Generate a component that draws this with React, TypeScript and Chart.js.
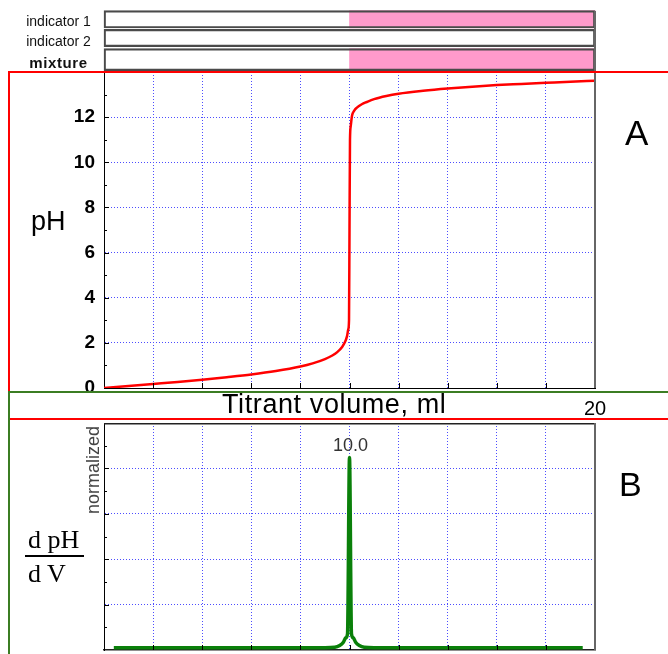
import React, { useEffect, useRef } from 'react';
import { Chart, registerables } from 'chart.js';

Chart.register(...registerables);

// ---------- data ----------
const indicatorLabels = ['indicator 1', 'indicator 2', 'mixture'];
const indicatorColourStart: (number | null)[] = [10, null, 10]; // ml where pink colour begins
const volumeMax = 20;
const phMax = 14;
const derivMax = 5;

const phVolume = [0, 1, 2, 3, 4, 5, 6, 7, 8, 8.5, 9, 9.3, 9.5, 9.7, 9.8, 9.9, 9.95, 9.98, 10, 10.02, 10.05, 10.1, 10.2, 10.3, 10.5, 10.7, 11, 11.5, 12, 13, 14, 15, 16, 17, 18, 19, 20];
const phValues = [0.0, 0.09, 0.18, 0.27, 0.37, 0.48, 0.6, 0.75, 0.95, 1.09, 1.28, 1.44, 1.59, 1.82, 2.0, 2.3, 2.6, 3.0, 7.0, 11.0, 11.6, 12.05, 12.3, 12.42, 12.57, 12.67, 12.8, 12.94, 13.04, 13.17, 13.27, 13.35, 13.42, 13.47, 13.52, 13.57, 13.61];

const derivVolume = [0.4, 9.0, 9.4, 9.6, 9.75, 9.85, 9.92, 10.0, 10.08, 10.15, 10.25, 10.4, 10.6, 11.0, 19.5];
const derivValues = [0.05, 0.05, 0.06, 0.1, 0.17, 0.27, 0.36, 4.24, 0.36, 0.27, 0.17, 0.1, 0.06, 0.05, 0.05];

// ---------- styling / layout ----------
const W = 668;
const H = 654;
const PINK = '#ff9acb';
const GRID = '#4d4dff';
const RED = '#ff0000';
const GREEN = '#3b7d23';
const CURVE_GREEN = '#0a800a';
const FONT = 'Arial, "Liberation Sans", sans-serif';
const SERIF = '"Liberation Serif", "Times New Roman", serif';
const rowCenter = [19.35, 38, 59.7];
const rowThickness = [17.3, 17.4, 22];
const rowLabelTop = [13.9, 33.9, 54.9];
const IND_BOTTOM = 72;

function innerTicks(id: string, xStep: number, yStep: number, yMinor: number, topLine: boolean) {
  return {
    id,
    afterDraw(chart: any) {
      const { ctx, chartArea } = chart;
      const { left, top, bottom } = chartArea;
      const x = chart.scales.x;
      const y = chart.scales.y;
      ctx.save();
      ctx.strokeStyle = '#000';
      ctx.lineWidth = 1;
      ctx.beginPath();
      for (let v = x.min + xStep; v < x.max - 1e-9; v += xStep) {
        const px = Math.round(x.getPixelForValue(v)) + 0.5;
        ctx.moveTo(px, bottom);
        ctx.lineTo(px, bottom - 5);
      }
      for (let v = y.min + yMinor; v < y.max - 1e-9; v += yMinor) {
        const py = Math.round(y.getPixelForValue(v)) + 0.5;
        const r = v / yStep;
        const major = Math.abs(r - Math.round(r)) < 1e-6;
        ctx.moveTo(left, py);
        ctx.lineTo(left + (major ? 5 : 3), py);
      }
      ctx.stroke();
      if (topLine) {
        ctx.strokeStyle = '#222';
        ctx.lineWidth = 1.5;
        ctx.beginPath();
        ctx.moveTo(left, top + 0.75);
        ctx.lineTo(chartArea.right, top + 0.75);
        ctx.stroke();
      }
      ctx.restore();
    },
  };
}

const peakLabel = {
  id: 'peakLabel',
  afterDatasetsDraw(chart: any) {
    let k = 0;
    for (let i = 1; i < derivValues.length; i++) if (derivValues[i] > derivValues[k]) k = i;
    const x = chart.scales.x.getPixelForValue(derivVolume[k]);
    const y = chart.scales.y.getPixelForValue(derivValues[k]);
    const { ctx } = chart;
    ctx.save();
    ctx.font = `18px ${FONT}`;
    ctx.fillStyle = '#333';
    ctx.textAlign = 'center';
    ctx.textBaseline = 'alphabetic';
    ctx.fillText(derivVolume[k].toFixed(1), x + 1, y - 7);
    ctx.restore();
  },
};

const gridColor = (lo: number, hi: number) => (c: any) =>
  c.tick && c.tick.value > lo + 1e-9 && c.tick.value < hi - 1e-9 ? GRID : 'rgba(0,0,0,0)';

function indicatorConfig(): any {
  const datasets: any[] = [];
  indicatorLabels.forEach((lab, i) => {
    datasets.push({
      label: lab + ' frame',
      data: [{ x: [0, volumeMax], y: rowCenter[i] }],
      backgroundColor: 'rgba(0,0,0,0)',
      borderColor: '#4a4a4a',
      borderWidth: 1.5,
      borderSkipped: false,
      barThickness: rowThickness[i],
      stack: 'row',
      order: 0,
      clip: false,
    });
    const start = indicatorColourStart[i];
    if (start !== null) {
      datasets.push({
        label: lab + ' colour',
        data: [{ x: [start, volumeMax], y: rowCenter[i] }],
        backgroundColor: PINK,
        borderWidth: 0,
        barThickness: rowThickness[i],
        stack: 'row',
        order: 1,
        clip: false,
      });
    }
  });
  return {
    type: 'bar',
    data: { datasets },
    options: {
      indexAxis: 'y',
      responsive: false,
      animation: false,
      devicePixelRatio: 1,
      layout: { padding: { left: 104, top: 0, right: W - 595, bottom: H - IND_BOTTOM } },
      plugins: { legend: { display: false }, tooltip: { enabled: false } },
      scales: {
        x: { type: 'linear', min: 0, max: volumeMax, display: false, stacked: false },
        y: { type: 'linear', min: 0, max: IND_BOTTOM, reverse: true, display: false, offset: false },
      },
    },
  };
}

function phConfig(): any {
  return {
    type: 'line',
    data: {
      datasets: [
        {
          label: 'pH',
          data: phVolume.map((v, i) => ({ x: v, y: phValues[i] })),
          borderColor: RED,
          borderWidth: 2.5,
          pointRadius: 0,
          cubicInterpolationMode: 'monotone',
          fill: false,
        },
      ],
    },
    options: {
      responsive: false,
      animation: false,
      devicePixelRatio: 1,
      layout: { padding: { left: 0, top: 72, right: W - 595, bottom: H - 419 } },
      plugins: { legend: { display: false }, tooltip: { enabled: false } },
      scales: {
        x: {
          type: 'linear',
          min: 0,
          max: volumeMax,
          grid: { color: gridColor(0, volumeMax), drawTicks: false, lineWidth: 1 },
          border: { display: true, color: '#000', width: 1, dash: [1, 2] },
          afterFit: (s: any) => {
            s.height = 31;
          },
          ticks: {
            stepSize: 2,
            autoSkip: false,
            maxRotation: 0,
            padding: 9,
            color: '#000',
            font: { family: FONT, size: 20 },
            callback: (v: any) => (v === volumeMax ? String(v) : ''),
          },
        },
        y: {
          type: 'linear',
          min: 0,
          max: phMax,
          grid: { color: gridColor(0, phMax), drawTicks: false, lineWidth: 1 },
          border: { display: true, color: '#000', width: 1, dash: [1, 2] },
          afterFit: (s: any) => {
            s.width = 104;
          },
          ticks: {
            stepSize: 2,
            padding: 9,
            color: '#000',
            font: { family: FONT, size: 19, weight: 'bold' },
            callback: (v: any) => (v === phMax ? null : String(v)),
          },
        },
      },
    },
    plugins: [innerTicks('ticksA', 2, 2, 1, false)],
  };
}

function derivConfig(): any {
  return {
    type: 'line',
    data: {
      datasets: [
        {
          label: 'dpH/dV',
          data: derivVolume.map((v, i) => ({ x: v, y: derivValues[i] })),
          borderColor: CURVE_GREEN,
          borderWidth: 3.5,
          pointRadius: 0,
          cubicInterpolationMode: 'monotone',
          fill: false,
        },
      ],
    },
    options: {
      responsive: false,
      animation: false,
      devicePixelRatio: 1,
      layout: { padding: { left: 0, top: 423, right: W - 595, bottom: 4 } },
      plugins: { legend: { display: false }, tooltip: { enabled: false } },
      scales: {
        x: {
          type: 'linear',
          min: 0,
          max: volumeMax,
          grid: { color: gridColor(0, volumeMax), drawTicks: false, lineWidth: 1 },
          border: { display: true, color: '#222', width: 1.5, dash: [1, 2] },
          afterFit: (s: any) => {
            s.height = 0;
          },
          ticks: { display: false, stepSize: 2 },
        },
        y: {
          type: 'linear',
          min: 0,
          max: derivMax,
          grid: { color: gridColor(0, derivMax), drawTicks: false, lineWidth: 1 },
          border: { display: true, color: '#000', width: 1, dash: [1, 2] },
          afterFit: (s: any) => {
            s.width = 104;
          },
          ticks: { display: false, stepSize: 1 },
        },
      },
    },
    plugins: [innerTicks('ticksB', 2, 1, 0.5, true), peakLabel],
  };
}

const abs = (s: React.CSSProperties): React.CSSProperties => ({ position: 'absolute', ...s });

export default function App() {
  const indRef = useRef<HTMLCanvasElement>(null);
  const aRef = useRef<HTMLCanvasElement>(null);
  const bRef = useRef<HTMLCanvasElement>(null);

  useEffect(() => {
    const charts = [
      new Chart(indRef.current as HTMLCanvasElement, indicatorConfig()),
      new Chart(aRef.current as HTMLCanvasElement, phConfig()),
      new Chart(bRef.current as HTMLCanvasElement, derivConfig()),
    ];
    return () => charts.forEach((c) => c.destroy());
  }, []);

  const canvasStyle: React.CSSProperties = { position: 'absolute', left: 0, top: 0, width: W, height: H };
  const text: React.CSSProperties = { position: 'absolute', whiteSpace: 'nowrap', lineHeight: 1, fontFamily: FONT, color: '#000' };

  return (
    <div style={{ position: 'absolute', left: 0, top: 0, width: W, height: H, overflow: 'hidden', background: '#fff' }}>
      <canvas ref={indRef} width={W} height={H} style={canvasStyle} />
      <canvas ref={aRef} width={W} height={H} style={canvasStyle} />
      <canvas ref={bRef} width={W} height={H} style={canvasStyle} />

      {/* indicator row labels */}
      {indicatorLabels.map((lab, i) => {
        const bold = i === indicatorLabels.length - 1;
        return (
          <div
            key={lab}
            style={{
              ...text,
              left: 58.5,
              top: rowLabelTop[i],
              transform: 'translateX(-50%)',
              fontSize: bold ? 15 : 14,
              color: '#111',
              fontWeight: bold ? 'bold' : 'normal',
              letterSpacing: bold ? 0.6 : 0,
            }}
          >
            {lab}
          </div>
        );
      })}

      {/* plot right edges */}
      <div style={abs({ left: 594, top: 11, width: 2, height: 377, background: '#666' })} />
      <div style={abs({ left: 594, top: 423, width: 2, height: 227, background: '#666' })} />

      {/* frames */}
      <div style={abs({ left: 8, top: 71, width: W - 8, height: 2, background: RED })} />
      <div style={abs({ left: 8, top: 71, width: 2, height: 321, background: RED })} />
      <div style={abs({ left: 8, top: 418, width: W - 8, height: 2, background: RED })} />
      <div style={abs({ left: 8, top: 391, width: W - 8, height: 2, background: GREEN })} />
      <div style={abs({ left: 8, top: 391, width: 2, height: H - 391, background: GREEN })} />

      {/* texts */}
      <div style={{ ...text, left: 31, top: 208, fontSize: 27 }}>pH</div>
      <div style={{ ...text, left: 625, top: 115, fontSize: 35 }}>A</div>
      <div style={{ ...text, left: 619, top: 467, fontSize: 34 }}>B</div>
      <div style={{ ...text, left: 222, top: 391, fontSize: 27, letterSpacing: 0.6 }}>Titrant volume, ml</div>
      <div
        style={{
          ...text,
          left: 92.8,
          top: 470,
          fontSize: 18,
          color: '#444',
          transform: 'translate(-50%, -50%) rotate(-90deg)',
        }}
      >
        normalized
      </div>
      <div style={{ ...text, left: 28, top: 526.5, fontSize: 26, fontFamily: SERIF }}>d pH</div>
      <div style={abs({ left: 25, top: 555, width: 59, height: 2, background: '#000' })} />
      <div style={{ ...text, left: 28, top: 561, fontSize: 26, fontFamily: SERIF }}>d V</div>
    </div>
  );
}
